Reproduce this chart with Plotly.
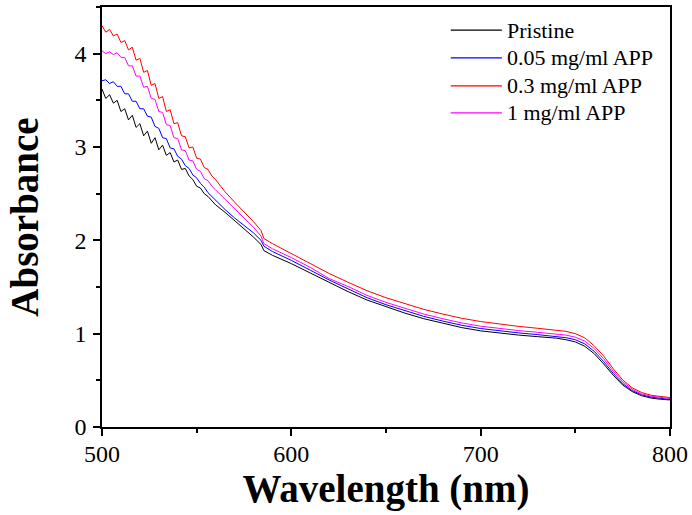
import plotly.graph_objects as go

# ---------------- data ----------------
wavelength = [500, 502, 504, 506, 508, 510, 512, 514, 516, 518, 520, 522, 524, 526, 528,
              530, 532, 534, 536, 538, 540, 542, 544, 546, 548, 550, 552, 554, 556, 558,
              560, 565, 570, 575, 580, 584, 585.5, 590, 600, 610, 620, 630, 640, 650, 660,
              670, 680, 690, 700, 710, 720, 730, 740, 745, 750, 755, 760, 765, 770, 775,
              780, 785, 790, 795, 800]

pristine = [3.62, 3.52, 3.56, 3.47, 3.50, 3.38, 3.41, 3.29, 3.34, 3.21, 3.25, 3.12, 3.17, 3.04, 3.10,
            2.97, 3.02, 2.91, 2.94, 2.84, 2.86, 2.76, 2.77, 2.69, 2.65, 2.58, 2.56, 2.50, 2.47, 2.42,
            2.38, 2.30, 2.215, 2.125, 2.035, 1.955, 1.89, 1.84, 1.75, 1.65, 1.55, 1.45, 1.36, 1.29, 1.22,
            1.16, 1.11, 1.065, 1.03, 1.005, 0.985, 0.968, 0.952, 0.935, 0.912, 0.865, 0.785, 0.675, 0.555, 0.45,
            0.38, 0.335, 0.31, 0.297, 0.29]

app_005 = [3.71, 3.72, 3.68, 3.70, 3.65, 3.65, 3.57, 3.57, 3.49, 3.49, 3.41, 3.41, 3.33, 3.32, 3.22,
           3.20, 3.10, 3.09, 2.99, 2.98, 2.90, 2.87, 2.80, 2.77, 2.70, 2.67, 2.61, 2.57, 2.51, 2.47,
           2.42, 2.33, 2.24, 2.16, 2.08, 2.00, 1.937, 1.88, 1.785, 1.68, 1.575, 1.48, 1.385, 1.31, 1.245,
           1.185, 1.135, 1.09, 1.055, 1.03, 1.008, 0.99, 0.972, 0.957, 0.935, 0.89, 0.81, 0.70, 0.575, 0.465,
           0.39, 0.345, 0.32, 0.305, 0.295]

app_03 = [4.30, 4.23, 4.26, 4.19, 4.21, 4.12, 4.14, 4.04, 4.07, 3.93, 3.95, 3.80, 3.82, 3.66, 3.68,
          3.52, 3.54, 3.38, 3.40, 3.25, 3.26, 3.12, 3.11, 2.99, 3.00, 2.88, 2.87, 2.78, 2.76, 2.69,
          2.65, 2.52, 2.41, 2.31, 2.20, 2.105, 2.02, 1.965, 1.86, 1.755, 1.645, 1.55, 1.46, 1.385, 1.32,
          1.26, 1.21, 1.165, 1.13, 1.10, 1.078, 1.058, 1.04, 1.025, 1.00, 0.955, 0.87, 0.76, 0.625, 0.505,
          0.42, 0.37, 0.34, 0.325, 0.315]

app_1 = [4.03, 4.00, 4.02, 3.99, 4.01, 3.96, 3.96, 3.87, 3.87, 3.76, 3.76, 3.64, 3.65, 3.52, 3.51,
         3.38, 3.37, 3.24, 3.23, 3.10, 3.09, 2.97, 2.96, 2.86, 2.85, 2.76, 2.74, 2.66, 2.64, 2.58,
         2.54, 2.44, 2.34, 2.24, 2.14, 2.045, 1.965, 1.91, 1.815, 1.71, 1.59, 1.505, 1.41, 1.335, 1.27,
         1.21, 1.16, 1.115, 1.08, 1.055, 1.033, 1.015, 0.998, 0.985, 0.962, 0.92, 0.84, 0.73, 0.60, 0.485,
         0.405, 0.355, 0.33, 0.315, 0.305]

series_names = ["Pristine", "0.05 mg/ml APP", "0.3 mg/ml APP", "1 mg/ml APP"]
series_values = [pristine, app_005, app_03, app_1]
series_colors = ["#000000", "#0000FF", "#FF0000", "#FF00FF"]

x_ticks = [500, 600, 700, 800]
y_ticks = [0, 1, 2, 3, 4]

FONT = "Liberation Serif, Times New Roman, serif"

fig = go.Figure()
for name, vals, col in zip(series_names, series_values, series_colors):
    fig.add_trace(go.Scatter(x=wavelength, y=vals, mode="lines", name=name,
                             line=dict(color=col, width=1), showlegend=False))

axis_common = dict(
    showline=True, linecolor="black", linewidth=1.5, mirror=True,
    ticks="outside", ticklen=7, tickwidth=1.5, tickcolor="black",
    showgrid=False, zeroline=False,
    tickfont=dict(family=FONT, size=24, color="black"),
)

fig.update_xaxes(range=[500, 800], tickvals=x_ticks, ticklabelstandoff=-3,
                 minor=dict(dtick=50, ticks="outside", ticklen=4, tickwidth=1.5, tickcolor="black"),
                 title=dict(text="<b>Wavelength (nm)</b>", font=dict(family=FONT, size=39, color="black"),
                            standoff=6),
                 **axis_common)
fig.update_yaxes(range=[0, 4.5], tickvals=y_ticks, ticklabelstandoff=2,
                 minor=dict(dtick=0.5, ticks="outside", ticklen=4, tickwidth=1.5, tickcolor="black"),
                 title=dict(text="<b>Absorbance</b>", font=dict(family=FONT, size=39, color="black"),
                            standoff=24),
                 **axis_common)

# legend drawn in the upper right of the plot area (no frame, as in the reference)
leg_line_x0, leg_line_x1, leg_text_x = 0.614, 0.704, 0.710
leg_rows_y = [0.945, 0.879, 0.812, 0.748]
for name, col, yy in zip(series_names, series_colors, leg_rows_y):
    fig.add_shape(type="line", xref="paper", yref="paper",
                  x0=leg_line_x0, x1=leg_line_x1, y0=yy, y1=yy,
                  line=dict(color=col, width=1.3))
    fig.add_annotation(xref="paper", yref="paper", x=leg_text_x, y=yy,
                       text=name, showarrow=False, xanchor="left", yanchor="middle",
                       font=dict(family=FONT, size=22, color="black"))

fig.update_layout(
    width=692, height=515,
    margin=dict(l=102, r=22, t=7, b=88, autoexpand=False),
    paper_bgcolor="white", plot_bgcolor="white",
    showlegend=False,
)

fig.write_html("out.html", config={"displayModeBar": False},
               post_script="document.body.style.margin='0';document.body.style.overflow='hidden';")
